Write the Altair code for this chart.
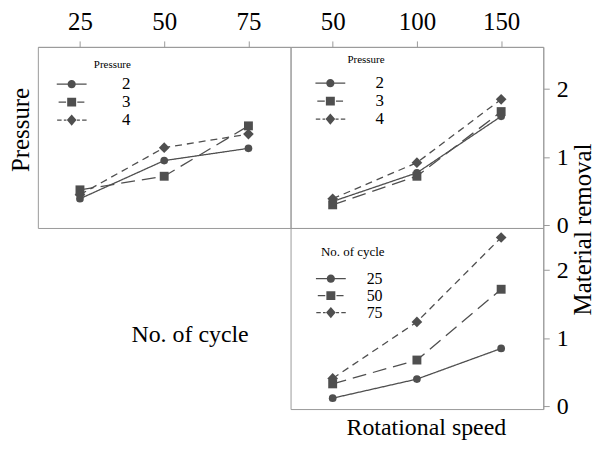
import altair as alt
import pandas as pd

# ---------------- data ----------------
cycles = [25, 50, 75]
speeds = [50, 100, 150]
pressure_levels = ["2", "3", "4"]
cycle_levels = ["25", "50", "75"]

# Material removal vs No. of cycle, one series per Pressure
mr_cycle_p2 = [0.39, 0.95, 1.13]
mr_cycle_p3 = [0.52, 0.72, 1.46]
mr_cycle_p4 = [0.45, 1.14, 1.34]

# Material removal vs Rotational speed, one series per Pressure
mr_speed_p2 = [0.35, 0.77, 1.60]
mr_speed_p3 = [0.30, 0.72, 1.67]
mr_speed_p4 = [0.39, 0.92, 1.85]

# Material removal vs Rotational speed, one series per No. of cycle
mr_speed_c25 = [0.12, 0.40, 0.85]
mr_speed_c50 = [0.33, 0.68, 1.72]
mr_speed_c75 = [0.41, 1.24, 2.48]

y_ticks = [0, 1, 2]


def table(xs, series_names, series_values):
    rows = []
    for name, vals in zip(series_names, series_values):
        for x, v in zip(xs, vals):
            rows.append({"x": x, "y": v, "s": name})
    return pd.DataFrame(rows)


df_cycle = table(cycles, pressure_levels, [mr_cycle_p2, mr_cycle_p3, mr_cycle_p4])
df_speed_p = table(speeds, pressure_levels, [mr_speed_p2, mr_speed_p3, mr_speed_p4])
df_speed_c = table(speeds, cycle_levels, [mr_speed_c25, mr_speed_c50, mr_speed_c75])

# ---------------- style ----------------
FONT = "Liberation Serif"
GRAY = "#9a9a9a"
INK = "#4f4f4f"
W, H = 254, 182
Y_DOMAIN = [-0.04, 2.62]

SHAPES = ["circle", "square", "diamond"]
SIZES = [60, 80, 115]
DASHES = [[1, 0], [14, 7], [7, 5]]


# legend glyphs: a (dashed) line with the marker in the middle, drawn as filled shapes
def seg(a, b, t=0.085):
    return f"M{a},{-t}H{b}V{t}H{a}Z"


LEGEND_PATHS = [
    seg(-2, -0.45) + seg(0.45, 2)
    + "M0.55,0A0.55,0.55,0,1,1,-0.55,0A0.55,0.55,0,1,1,0.55,0Z",
    seg(-1.75, -0.75) + seg(0.75, 1.7) + "M-0.6,-0.6H0.6V0.6H-0.6Z",
    seg(-1.95, -1.35) + seg(-1.05, -0.7) + seg(0.7, 1.1) + seg(1.4, 2)
    + "M0,-0.75L0.65,0L0,0.75L-0.65,0Z",
]


def make_legend(title, lx, ly, title_size, title_pad, label_size, label_offset, row_pad, anchor):
    return alt.Legend(
        title=title, orient="none", legendX=lx, legendY=ly, direction="vertical",
        titleFont=FONT, titleFontSize=title_size, titleFontWeight="normal",
        titleColor="black", titleAnchor=anchor, titlePadding=title_pad,
        labelFont=FONT, labelFontSize=label_size, labelColor="black",
        labelOffset=label_offset, symbolSize=225, symbolOpacity=1,
        symbolFillColor=INK, symbolStrokeColor=INK, symbolStrokeWidth=0,
        rowPadding=row_pad, padding=0,
    )


def panel(df, xdomain, order, legend, x_axis, y_axis):
    xs = alt.Scale(domain=xdomain, nice=False, zero=False)
    ys = alt.Scale(domain=Y_DOMAIN, nice=False, zero=False)
    base = alt.Chart(df)
    layers = []
    for i, (name, shp, sz, dash) in enumerate(zip(order, SHAPES, SIZES, DASHES)):
        sub = base.transform_filter(alt.datum.s == name)
        if i == 0:
            xe = alt.X("x:Q", scale=xs, axis=x_axis)
            ye = alt.Y("y:Q", scale=ys, axis=y_axis)
        else:
            xe = alt.X("x:Q", scale=xs)
            ye = alt.Y("y:Q", scale=ys)
        layers.append(
            sub.mark_line(color=INK, strokeWidth=1.3, strokeDash=dash).encode(x=xe, y=ye)
        )
        layers.append(
            sub.mark_point(filled=True, color=INK, opacity=1, shape=shp, size=sz).encode(
                x=alt.X("x:Q", scale=xs), y=alt.Y("y:Q", scale=ys)
            )
        )
    layers.append(
        base.mark_point(filled=True, color=INK, opacity=0)
        .encode(
            x=alt.X("x:Q", scale=xs),
            y=alt.Y("y:Q", scale=ys),
            shape=alt.Shape("s:N", scale=alt.Scale(domain=order, range=LEGEND_PATHS), legend=legend),
        )
    )
    return alt.layer(*layers).properties(width=W, height=H)


def top_axis(vals):
    return alt.Axis(
        orient="top", values=vals, title=None, grid=False, tickColor=GRAY, domainColor=GRAY,
        tickSize=6, labelPadding=6, labelFont=FONT, labelFontSize=25, labelColor="black",
    )


def right_axis(title=None):
    kw = dict(
        orient="right", values=y_ticks, format="d", grid=False, tickColor=GRAY,
        domainColor=GRAY, tickSize=6, labelPadding=7, labelFont=FONT, labelFontSize=24,
        labelColor="black",
    )
    if title:
        kw.update(
            title=title, titleFont=FONT, titleFontSize=25, titleFontWeight="normal",
            titleColor="black", titleAngle=270, titleX=39.5, titleY=183, titleBaseline="middle",
        )
    else:
        kw.update(title=None)
    return alt.Axis(**kw)


left_title_axis = alt.Axis(
    orient="left", labels=False, ticks=False, domain=False, grid=False, title="Pressure",
    titleFont=FONT, titleFontSize=25, titleFontWeight="normal", titleColor="black",
    titleAngle=270, titleX=-17, titleY=83, titleBaseline="middle",
)

bottom_title_axis = alt.Axis(
    orient="bottom", labels=False, ticks=False, domain=False, grid=False,
    title="Rotational speed", titleFont=FONT, titleFontSize=24, titleFontWeight="normal",
    titleColor="black", titleX=136, titleY=26, titleBaseline="alphabetic",
)

A = panel(
    df_cycle, [12.5, 87.5], pressure_levels,
    make_legend("Pressure", 25.5, 12, 11, 6, 17, 42, 0, "end"),
    top_axis(cycles), left_title_axis,
)
B = panel(
    df_speed_p, [25, 175], pressure_levels,
    make_legend("Pressure", 31.5, 7, 11, 10, 17, 37, 0, "end"),
    top_axis(speeds), right_axis("Material removal"),
)
C = panel(
    df_speed_c, [25, 175], cycle_levels,
    make_legend("No. of cycle", 30.5, 18, 13, 12, 16, 28, 1, "middle"),
    bottom_title_axis, right_axis(),
)
E = (
    alt.Chart(alt.Data(values=[{"t": "No. of cycle"}]))
    .mark_text(font=FONT, fontSize=24, color="black")
    .encode(text="t:N", x=alt.value(153), y=alt.value(108))
    .properties(width=W, height=H, view=alt.ViewBackground(strokeOpacity=0))
)

chart = (
    alt.concat(A, B, E, C, columns=2, spacing=0, bounds="flush")
    .resolve_scale(shape="independent")
    .resolve_legend(shape="independent")
    .properties(padding={"left": 0, "top": 0, "right": 0, "bottom": -1}, background="white")
    .configure_view(stroke=GRAY, strokeWidth=1)
)

chart.save("out.html", embed_options={"renderer": "svg", "actions": False})
